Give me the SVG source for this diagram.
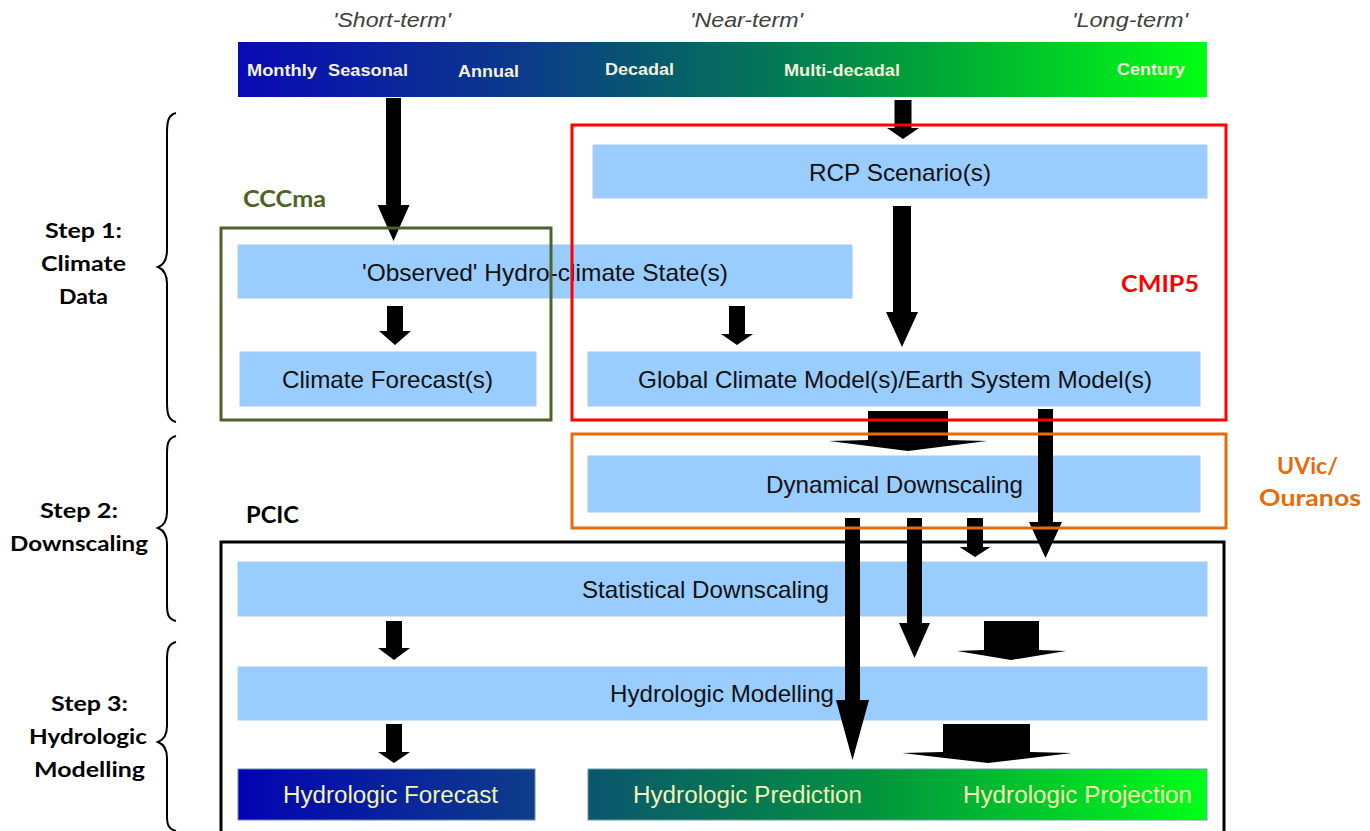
<svg xmlns="http://www.w3.org/2000/svg" width="1370" height="831" viewBox="0 0 1370 831">
<defs>
<linearGradient id="gTime" x1="0" y1="0" x2="1" y2="0">
<stop offset="0" stop-color="#0a0ab4"/>
<stop offset="0.3" stop-color="#0b3c88"/>
<stop offset="0.5" stop-color="#056a60"/>
<stop offset="0.7" stop-color="#01a03a"/>
<stop offset="1" stop-color="#00ff14"/>
</linearGradient>
<linearGradient id="gFore" x1="0" y1="0" x2="1" y2="0">
<stop offset="0" stop-color="#0303b4"/>
<stop offset="1" stop-color="#0d3f88"/>
</linearGradient>
<linearGradient id="gPred" x1="0" y1="0" x2="1" y2="0">
<stop offset="0" stop-color="#0b556e"/>
<stop offset="0.45" stop-color="#03913f"/>
<stop offset="1" stop-color="#00ff18"/>
</linearGradient>
<style>
.box{fill:#99ccff;stroke:#a9c9ec;stroke-width:1}
.bt{font-family:"Liberation Sans",Arial,sans-serif;font-size:24px;fill:#111;text-anchor:middle}
.gt{font-family:"Liberation Sans",Arial,sans-serif;font-size:23px;fill:#f3f3b4;text-anchor:middle}
.tl{font-family:"Liberation Sans",Arial,sans-serif;font-size:17px;font-weight:bold;fill:#f2f2da;text-anchor:middle}
.term{font-family:"Liberation Sans",Arial,sans-serif;font-size:21px;font-style:italic;fill:#404040;text-anchor:middle}
.lab{font-family:Lato,"Open Sans",sans-serif;font-size:22px;font-weight:bold;text-anchor:middle}
.step{font-family:Lato,"Open Sans",sans-serif;font-size:21px;font-weight:bold;fill:#000;text-anchor:middle}
.arr{fill:#000}
.frame{fill:none;stroke-width:3}
.brace{fill:none;stroke:#000;stroke-width:2}
</style>
</defs>
<rect width="1370" height="831" fill="#fff"/>

<g id="timeline">
<rect x="238" y="42" width="969" height="55" fill="url(#gTime)"/>
<text class="tl" x="282" y="76" textLength="70" lengthAdjust="spacingAndGlyphs">Monthly</text>
<text class="tl" x="368" y="76" textLength="80" lengthAdjust="spacingAndGlyphs">Seasonal</text>
<text class="tl" x="488.5" y="77" textLength="61" lengthAdjust="spacingAndGlyphs">Annual</text>
<text class="tl" x="639.5" y="75" textLength="69" lengthAdjust="spacingAndGlyphs">Decadal</text>
<text class="tl" x="842" y="76" textLength="116" lengthAdjust="spacingAndGlyphs">Multi-decadal</text>
<text class="tl" x="1151" y="75" textLength="68" lengthAdjust="spacingAndGlyphs">Century</text>
</g>
<g id="terms">
<text class="term" x="392" y="27" textLength="118" lengthAdjust="spacingAndGlyphs">'Short-term'</text>
<text class="term" x="746.5" y="27" textLength="113" lengthAdjust="spacingAndGlyphs">'Near-term'</text>
<text class="term" x="1130" y="27" textLength="116" lengthAdjust="spacingAndGlyphs">'Long-term'</text>
</g>

<g id="rcp"><rect class="box" x="593" y="145" width="614" height="53"/><text class="bt" x="900" y="181" textLength="182" lengthAdjust="spacingAndGlyphs">RCP Scenario(s)</text></g>
<g id="observed"><rect class="box" x="238" y="245" width="614" height="53"/><text class="bt" x="545" y="281" textLength="366" lengthAdjust="spacingAndGlyphs">'Observed' Hydro-climate State(s)</text></g>
<g id="forecast"><rect class="box" x="240" y="352" width="296" height="54"/><text class="bt" x="387.5" y="388" textLength="211" lengthAdjust="spacingAndGlyphs">Climate Forecast(s)</text></g>
<g id="gcm"><rect class="box" x="588" y="352" width="612" height="54"/><text class="bt" x="895" y="388" textLength="514" lengthAdjust="spacingAndGlyphs">Global Climate Model(s)/Earth System Model(s)</text></g>
<g id="dynamical"><rect class="box" x="588" y="456" width="612" height="56"/><text class="bt" x="894.5" y="493" textLength="257" lengthAdjust="spacingAndGlyphs">Dynamical Downscaling</text></g>
<g id="statistical"><rect class="box" x="238" y="562" width="969" height="54"/><text class="bt" x="705.5" y="598" textLength="247" lengthAdjust="spacingAndGlyphs">Statistical Downscaling</text></g>
<g id="hydromodel"><rect class="box" x="238" y="667" width="969" height="53"/><text class="bt" x="722" y="702" textLength="224" lengthAdjust="spacingAndGlyphs">Hydrologic Modelling</text></g>
<g id="hydroforecast"><rect x="238" y="769" width="297" height="51" fill="url(#gFore)" stroke="#6a86b8" stroke-width="1"/><text class="gt" x="390.5" y="803" textLength="215" lengthAdjust="spacingAndGlyphs">Hydrologic Forecast</text></g>
<g id="hydropred"><rect x="588" y="769" width="619" height="51" fill="url(#gPred)" stroke="#6aa0a0" stroke-width="1"/><text class="gt" x="747.5" y="803" textLength="229" lengthAdjust="spacingAndGlyphs">Hydrologic Prediction</text><text class="gt" x="1077.5" y="803" textLength="229" lengthAdjust="spacingAndGlyphs">Hydrologic Projection</text></g>

<g id="connectors">
<polygon class="arr" points="386,98 401,98 401,205 409.5,205 393.5,241 377.5,205 386,205"/>
<polygon class="arr" points="387,306 403,306 403,331 411,331 395,345 379,331 387,331"/>
<polygon class="arr" points="729,306 745,306 745,334 753,334 737,345 721,334 729,334"/>
<polygon class="arr" points="894.5,100 911.5,100 911.5,128 919,128 903,139 887,128 894.5,128"/>
<polygon class="arr" points="893,206 911,206 911,312 918,312 902,347 886,312 893,312"/>
<polygon class="arr" points="868,411 948,411 948,440 987,441 908,451 829,441 868,440"/>
<polygon class="arr" points="1038,409 1053,409 1053,522 1062,522 1045.5,558 1029,522 1038,522"/>
<polygon class="arr" points="845,518 860,518 860,700 869,700 852.5,760 836,700 845,700"/>
<polygon class="arr" points="907,518 922,518 922,623 930,623 914.5,658 899,623 907,623"/>
<polygon class="arr" points="967,518 983,518 983,547 990.5,547 975,557 959.5,547 967,547"/>
<polygon class="arr" points="984,621 1039,621 1039,650 1066,651 1011,660 957,651 984,650"/>
<polygon class="arr" points="386,621 402,621 402,648 410,648 394,660 378,648 386,648"/>
<polygon class="arr" points="386,724 402,724 402,752 410,752 394,763 378,752 386,752"/>
<polygon class="arr" points="943,724 1030,724 1030,752 1072,753 988,763 902,753 943,752"/>
</g>

<g id="cccma">
<rect class="frame" x="221" y="228" width="330" height="192" stroke="#4f6228"/>
<text class="lab" x="284.5" y="207" fill="#4f6228" textLength="83" lengthAdjust="spacingAndGlyphs">CCCma</text>
</g>
<g id="cmip5">
<rect class="frame" x="572" y="125" width="654" height="295" stroke="#ff0000"/>
<text class="lab" x="1160" y="292" fill="#ff0000" textLength="78" lengthAdjust="spacingAndGlyphs">CMIP5</text>
</g>
<g id="uvic">
<rect class="frame" x="572" y="434" width="654" height="94" stroke="#e46c0a"/>
<text class="lab" x="1307.5" y="474" fill="#e46c0a" textLength="61" lengthAdjust="spacingAndGlyphs">UVic/</text>
<text class="lab" x="1310" y="506" fill="#e46c0a" textLength="102" lengthAdjust="spacingAndGlyphs">Ouranos</text>
</g>
<g id="pcic">
<rect class="frame" x="221" y="542" width="1003" height="300" stroke="#000"/>
<text class="lab" x="272.5" y="523" fill="#000" textLength="53" lengthAdjust="spacingAndGlyphs">PCIC</text>
</g>

<g id="steps">
<path class="brace" d="M176,113 C168,115 167,122 167,133 L167,250 C167,260 163,265 158,267 C163,269 167,274 167,284 L167,402 C167,413 168,420 176,422"/>
<path class="brace" d="M176,436 C168,438 167,444 167,454 L167,512 C167,522 163,526 158,528 C163,530 167,534 167,544 L167,604 C167,614 168,619 176,621"/>
<path class="brace" d="M176,642 C168,644 167,650 167,660 L167,726 C167,736 163,740 158,742 C163,744 167,748 167,758 L167,816 C167,824 168,829 176,831"/>
<text class="step" x="83.5" y="238" textLength="77" lengthAdjust="spacingAndGlyphs">Step 1:</text>
<text class="step" x="83.5" y="271" textLength="85" lengthAdjust="spacingAndGlyphs">Climate</text>
<text class="step" x="83.5" y="304" textLength="49" lengthAdjust="spacingAndGlyphs">Data</text>
<text class="step" x="79" y="518" textLength="78" lengthAdjust="spacingAndGlyphs">Step 2:</text>
<text class="step" x="79" y="551" textLength="138" lengthAdjust="spacingAndGlyphs">Downscaling</text>
<text class="step" x="89.5" y="711" textLength="77" lengthAdjust="spacingAndGlyphs">Step 3:</text>
<text class="step" x="88" y="744" textLength="118" lengthAdjust="spacingAndGlyphs">Hydrologic</text>
<text class="step" x="89.5" y="777" textLength="111" lengthAdjust="spacingAndGlyphs">Modelling</text>
</g>
</svg>
